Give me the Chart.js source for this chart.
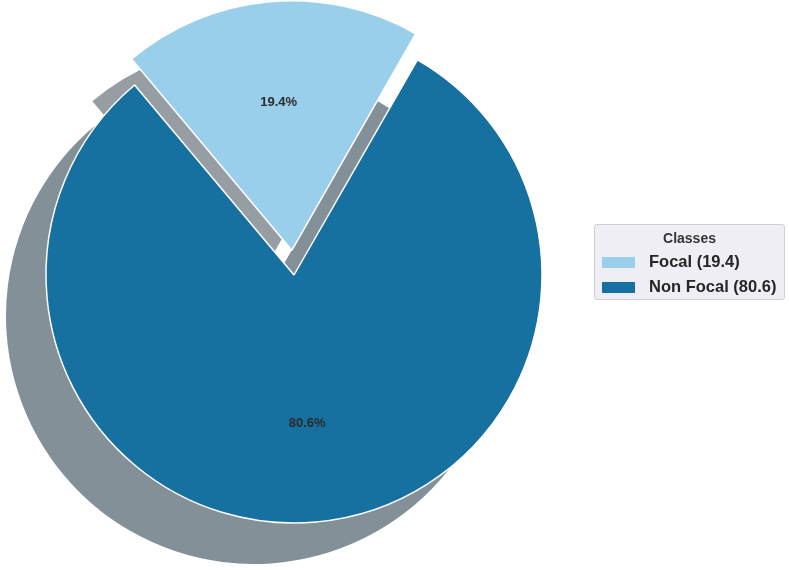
<!DOCTYPE html>
<html>
<head>
<meta charset="utf-8">
<script src="https://cdn.jsdelivr.net/npm/chart.js@4.4.1/dist/chart.umd.min.js"></script>
<style>
  html, body { margin: 0; padding: 0; background: #fff; }
  #wrap { position: relative; width: 789px; height: 570px; }
  #legend {
    position: absolute; left: 594px; top: 224px; width: 191px; height: 76px;
    box-sizing: border-box; background: #eeeef4; border: 1px solid #cfcfd6; border-radius: 3px;
    font-family: 'Liberation Sans', Arial, sans-serif; font-weight: bold; color: #262626;
  }
  #legend .title { position: absolute; top: 5px; left: 0; width: 100%; text-align: center; font-size: 14px; color: #333; }
  #legend .row { position: absolute; left: 7px; font-size: 16.5px; line-height: 20px; white-space: nowrap; }
  #legend .sw { display: inline-block; width: 33px; height: 11px; margin-right: 14px; vertical-align: -1px; }
</style>
</head>
<body>
<div id="wrap">
  <canvas id="pieChart" width="789" height="570"></canvas>
  <div id="legend"></div>
</div>
<script>
const labels = ['Focal', 'Non Focal'];
const values = [19.4, 80.6];
const colors = ['#9acfec', '#1670a0'];
const shadowColors = ['rgba(46, 62, 71, 0.5)', 'rgba(7, 34, 48, 0.5)'];
const explode = [0.1, 0];   // fraction of radius, like matplotlib

// legend (html, real text)
const legendEl = document.getElementById('legend');
legendEl.innerHTML = '<div class="title">Classes</div>' + labels.map((l, i) =>
  `<div class="row" style="top:${26 + i * 25}px"><span class="sw" style="background:${colors[i]}"></span>${l} (${values[i]})</div>`
).join('');

function arcInfo(arc, i) {
  const p = arc.getProps(['x', 'y', 'startAngle', 'endAngle', 'outerRadius']);
  const mid = (p.startAngle + p.endAngle) / 2;
  const off = explode[i] * p.outerRadius;
  return { ...p, mid, off, cx: p.x + off * Math.cos(mid), cy: p.y + off * Math.sin(mid) };
}

// matplotlib-style drop shadow behind every wedge
const pieShadow = {
  id: 'pieShadow',
  beforeDatasetsDraw(chart) {
    const ctx = chart.ctx;
    chart.getDatasetMeta(0).data.forEach((arc, i) => {
      const a = arcInfo(arc, i);
      const cx = a.cx - 40, cy = a.cy + 41;
      ctx.save();
      ctx.beginPath();
      ctx.moveTo(cx, cy);
      ctx.arc(cx, cy, a.outerRadius, a.startAngle, a.endAngle);
      ctx.closePath();
      ctx.fillStyle = shadowColors[i];
      ctx.fill();
      ctx.restore();
    });
  }
};

// percentage labels at 0.6 of the radius
const pctLabels = {
  id: 'pctLabels',
  afterDatasetsDraw(chart) {
    const ctx = chart.ctx;
    ctx.save();
    ctx.font = "bold 13px 'Liberation Sans', Arial, sans-serif";
    ctx.fillStyle = '#2b2b2b';
    ctx.textAlign = 'center';
    ctx.textBaseline = 'middle';
    chart.getDatasetMeta(0).data.forEach((arc, i) => {
      const a = arcInfo(arc, i);
      const d = 0.6 * a.outerRadius;
      ctx.fillText(values[i].toFixed(1) + '%', a.cx + d * Math.cos(a.mid), a.cy + d * Math.sin(a.mid));
    });
    ctx.restore();
  }
};

const R = 248;

new Chart(document.getElementById('pieChart'), {
  type: 'pie',
  data: {
    labels,
    datasets: [{
      data: values,
      backgroundColor: colors,
      borderColor: '#ffffff',
      borderWidth: 1.5,
      // Chart.js moves an arc by offset / 4
      offset: explode.map(e => e * R * 4)
    }]
  },
  options: {
    responsive: false,
    animation: false,
    rotation: -40,
    radius: R,
    layout: { padding: { left: 0, top: 0, right: 201, bottom: 20 } },
    plugins: {
      legend: { display: false },
      tooltip: { enabled: false }
    }
  },
  plugins: [pieShadow, pctLabels]
});
</script>
</body>
</html>
